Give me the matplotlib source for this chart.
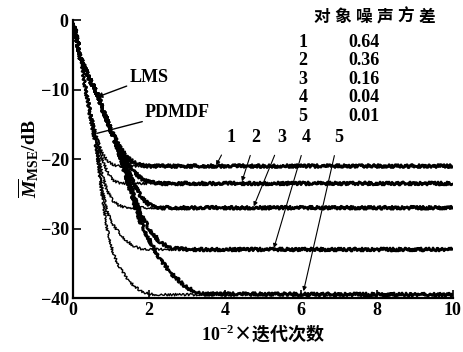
import matplotlib
matplotlib.use("Agg")
import matplotlib.pyplot as plt

SERIF = ["Liberation Serif", "Noto Sans CJK SC"]
CJK = ["Noto Sans CJK SC", "Liberation Serif"]

plt.rcParams["mathtext.fontset"] = "custom"
plt.rcParams["mathtext.rm"] = "Liberation Serif:bold"
plt.rcParams["mathtext.it"] = "Liberation Serif:italic:bold"
plt.rcParams["mathtext.bf"] = "Liberation Serif:bold"

# LMS learning curves (slower), one per noise variance
lms_x = [0.03, 0.2, 0.4, 0.63, 0.8, 1.0, 1.2, 1.4, 1.6, 1.8, 2.0, 2.3, 2.6, 3.0, 3.4, 10]
lms_1 = [-0.5, -5.5, -8, -10.5, -13, -15.8, -18, -19.6, -20.5, -20.9, -21, -21, -21, -21, -21, -21]
lms_2 = [-0.5, -5.5, -8, -10.5, -13, -15.8, -18.3, -20.3, -21.8, -22.8, -23.3, -23.5, -23.5, -23.5, -23.5, -23.5]
lms_3 = [-0.5, -5.5, -8, -10.5, -13, -15.8, -18.5, -21, -23.5, -25.5, -26.5, -27, -27, -27, -27, -27]
lms_4 = [-0.5, -5.5, -8, -10.5, -13, -15.8, -18.7, -22, -25.3, -28, -30, -32, -32.8, -33, -33, -33]
lms_5 = [-0.5, -5.5, -8, -10.5, -13, -15.8, -18.8, -22.5, -26, -29.3, -31.5, -34.5, -36.5, -38.5, -39.4, -39.5]

# PDMDF learning curves (faster)
pd_x = [0.03, 0.2, 0.35, 0.5, 0.63, 0.76, 0.9, 1.05, 1.2, 1.4, 1.6, 1.8, 2.0, 2.3, 2.6, 10]
pd_1 = [-0.5, -5.5, -10, -14, -17, -19, -20.2, -20.8, -21, -21, -21, -21, -21, -21, -21, -21]
pd_2 = [-0.5, -5.5, -10, -14, -17, -19.8, -21.8, -23, -23.4, -23.5, -23.5, -23.5, -23.5, -23.5, -23.5, -23.5]
pd_3 = [-0.5, -5.5, -10, -14.3, -18, -22, -24.5, -26, -26.6, -27, -27, -27, -27, -27, -27, -27]
pd_4 = [-0.5, -5.5, -10.5, -15, -18.8, -24, -27.5, -29.3, -30.5, -31.7, -32.5, -32.9, -33, -33, -33, -33]
pd_5 = [-0.5, -6, -11, -15.5, -19, -25, -30, -33.3, -35.3, -37, -38.2, -39, -39.4, -39.5, -39.5, -39.5]

labels = ["1", "2", "3", "4", "5"]
variances = ["0.64", "0.36", "0.16", "0.04", "0.01"]
table_title = "对象噪声方差"
# curve label position and the point its leader line touches
label_pos = [(4.15, -16.9), (4.82, -16.9), (5.5, -16.9), (6.15, -16.9), (6.99, -16.9)]
label_tip = [(3.77, -20.9), (4.45, -23.2), (4.76, -26.8), (5.29, -32.8), (6.07, -39.0)]

fig = plt.figure(figsize=(4.64, 3.52), dpi=100)
ax = fig.add_axes([0.157, 0.153, 0.819, 0.79])

for y in [lms_1, lms_2, lms_3, lms_4, lms_5]:
    line, = ax.plot(lms_x, y, color="black", lw=1.9, solid_capstyle="butt")
    line.set_sketch_params(scale=1.6, length=2.0, randomness=3)

for y in [pd_1, pd_2, pd_3, pd_4, pd_5]:
    line, = ax.plot(pd_x, y, color="black", lw=1.0)
    line.set_sketch_params(scale=1.2, length=2.0, randomness=3)

ax.set_xlim(0, 10)
ax.set_ylim(-40, 0)
ax.set_xticks([0, 2, 4, 6, 8, 10])
ax.set_yticks([0, -10, -20, -30, -40])
ax.set_yticklabels(["0", "\u221210", "\u221220", "\u221230", "\u221240"])
ax.spines["top"].set_visible(False)
ax.spines["right"].set_visible(False)
ax.spines["left"].set_linewidth(1.6)
ax.spines["bottom"].set_linewidth(1.6)
ax.tick_params(direction="in", length=6, width=1.2, pad=3)
for t in ax.get_xticklabels() + ax.get_yticklabels():
    t.set_fontfamily(SERIF)
    t.set_fontweight("bold")
    t.set_fontsize(13)

ax.set_xlabel("$10^{-2}$\u00d7迭代次数", fontsize=13, fontweight="bold",
              family=CJK, labelpad=2)
ax.set_ylabel(r"$\overline{M}_{\mathrm{MSE}}$/dB", fontsize=14,
              fontweight="bold", family=SERIF, labelpad=0)

# algorithm labels
ax.annotate("LMS", xy=(0.63, -11.1), xytext=(1.49, -8.3), fontsize=13,
            fontweight="bold", family=SERIF, va="center", ha="left",
            arrowprops=dict(arrowstyle="-|>", color="black", lw=1.0,
                            mutation_scale=8, shrinkA=0, shrinkB=0))
ax.annotate("PDMDF", xy=(0.63, -16.3), xytext=(1.9, -13.3), fontsize=13,
            fontweight="bold", family=SERIF, va="center", ha="left",
            arrowprops=dict(arrowstyle="-", color="black", lw=1.0,
                            shrinkA=0, shrinkB=0))

for lab, p, tip in zip(labels, label_pos, label_tip):
    ax.annotate(lab, xy=tip, xytext=p, fontsize=13, fontweight="bold",
                family=SERIF, ha="center", va="center",
                arrowprops=dict(arrowstyle="-|>", color="black", lw=0.8,
                                mutation_scale=6, shrinkA=5, shrinkB=0))

# noise variance table
for i, ch in enumerate(table_title):
    fig.text((322 + i * 21) / 464, 0.952, ch, fontsize=12, fontweight="bold",
             family=CJK, ha="center", va="center")
for i, (lab, v) in enumerate(zip(labels, variances)):
    yy = 0.880 - i * 0.0525
    fig.text(0.653, yy, lab, fontsize=13, fontweight="bold", family=SERIF,
             ha="center", va="center")
    fig.text(0.75, yy, v, fontsize=13, fontweight="bold", family=SERIF,
             ha="left", va="center")

fig.savefig("out.png", dpi=100)
